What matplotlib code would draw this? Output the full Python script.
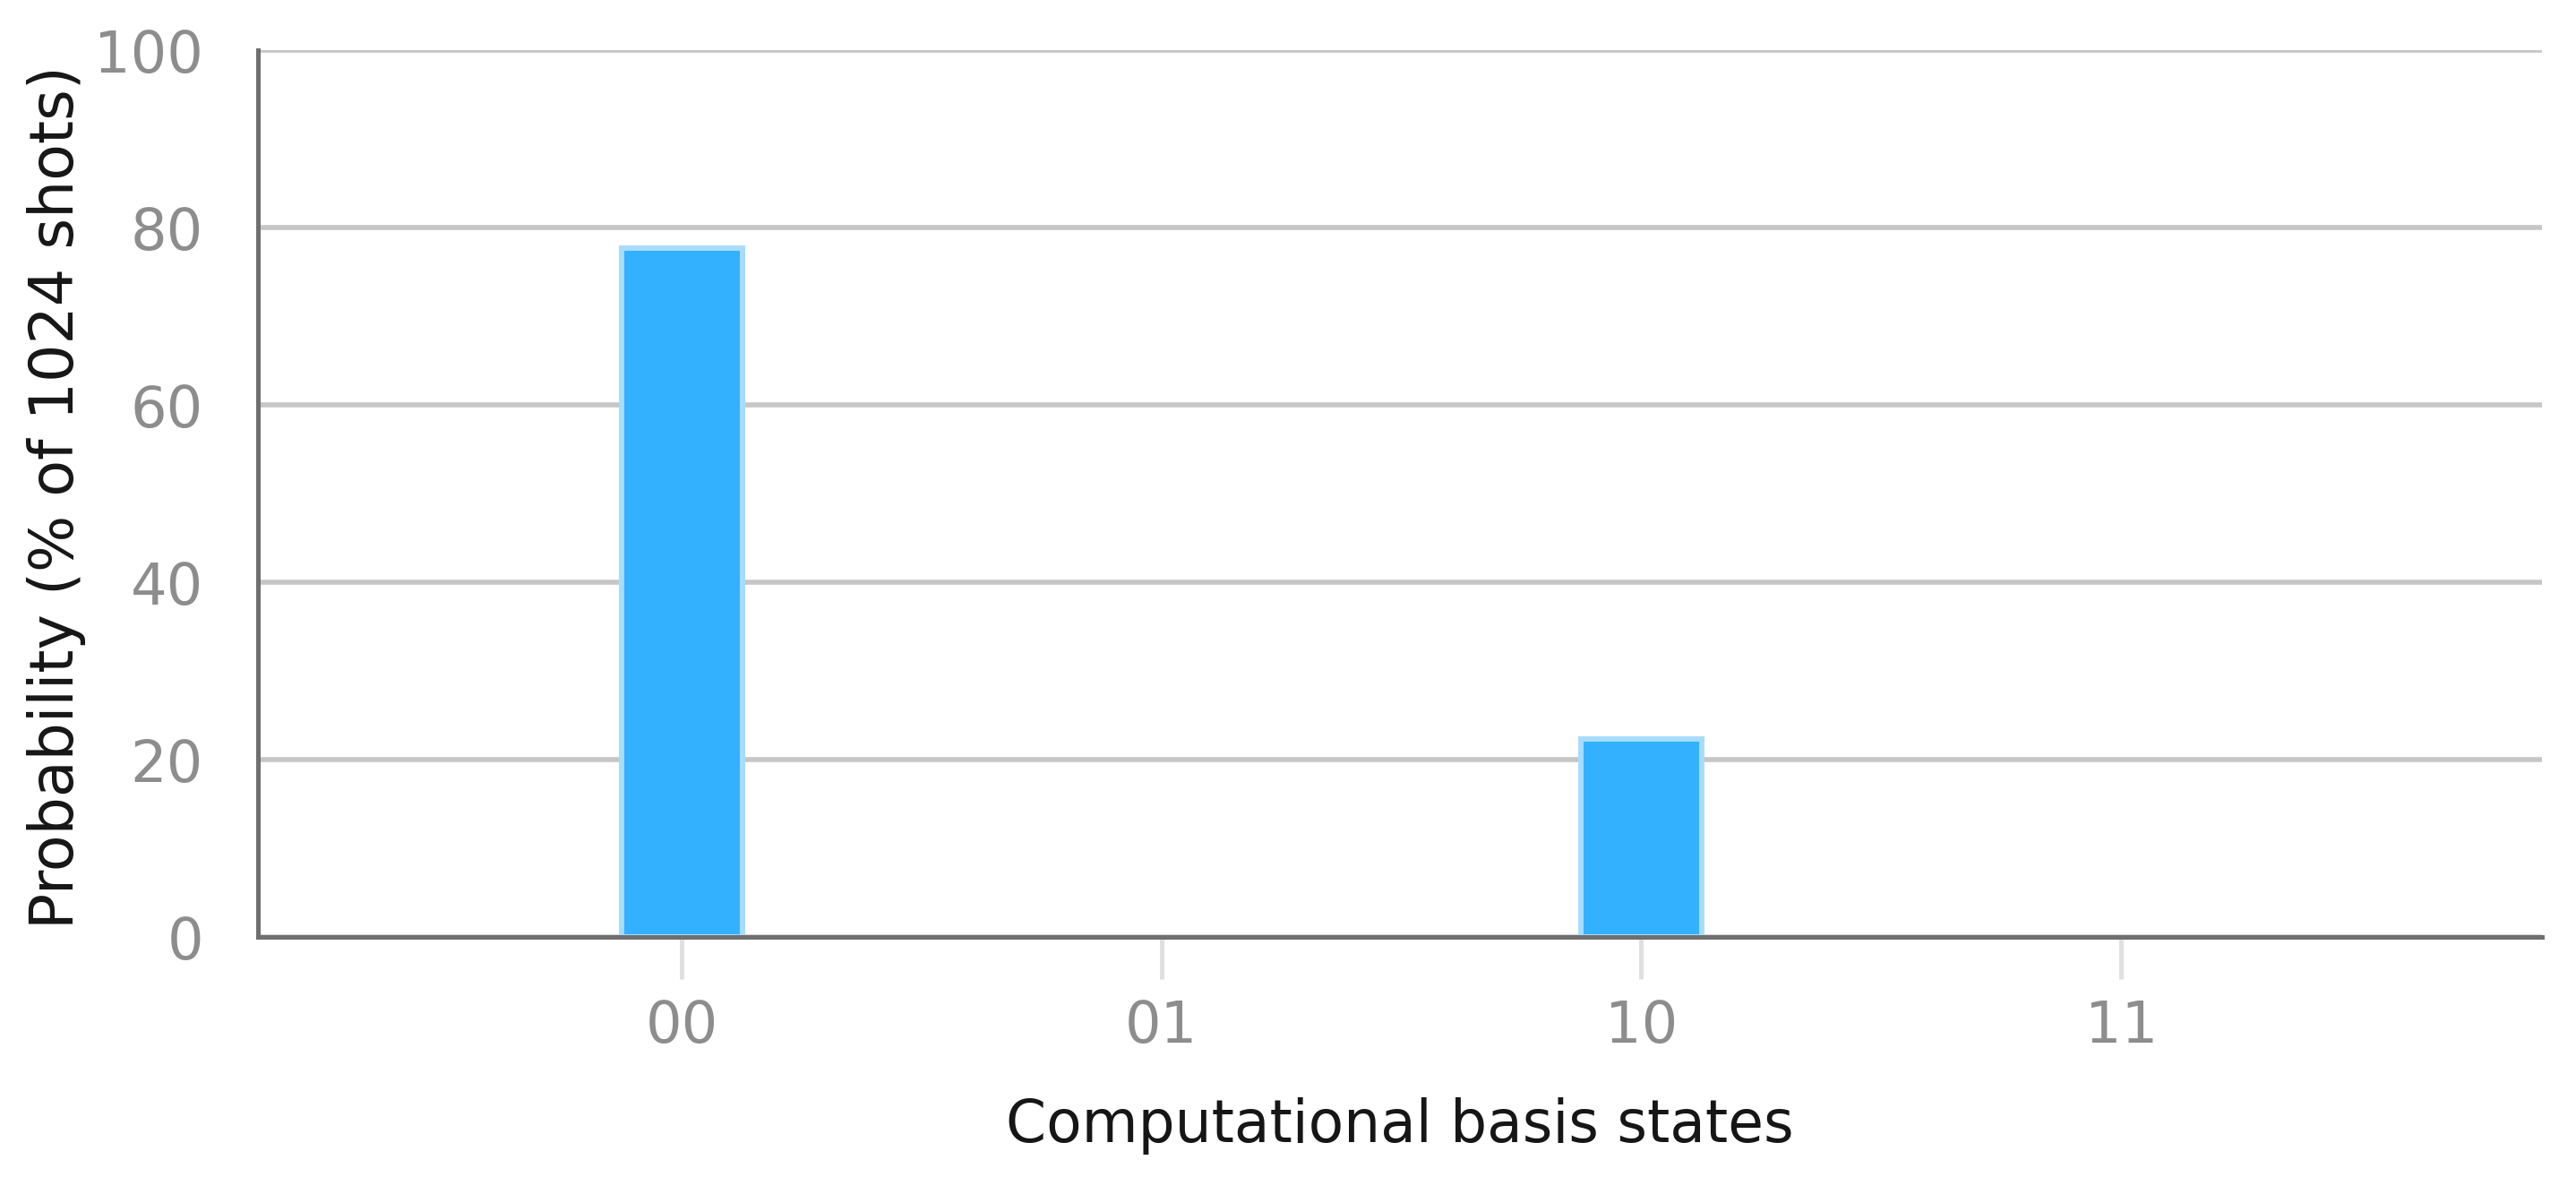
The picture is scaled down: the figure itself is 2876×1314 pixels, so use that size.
import matplotlib
matplotlib.use("Agg")
import matplotlib.pyplot as plt

# Data
states = ["00", "01", "10", "11"]
probabilities = [77.7, 0.0, 22.3, 0.0]
y_ticks = [0, 20, 40, 60, 80, 100]

DPI = 100
fig = plt.figure(figsize=(28.76, 13.14), dpi=DPI)
W, H = 2876, 1314
left, right, top, bottom = 288, 2838, 56, 1046
ax = fig.add_axes([left / W, (H - bottom) / H, (right - left) / W, (bottom - top) / H])

x = list(range(len(states)))
edge_widths = [4.3 if v > 0 else 0 for v in probabilities]
ax.bar(x, probabilities, width=0.252, color="#33b1ff", edgecolor="#a8dcff",
       linewidth=edge_widths, zorder=2)

ax.set_xlim(-0.883, 3.877)
ax.set_ylim(0, 100)
ax.set_yticks(y_ticks)
ax.set_xticks(x)
ax.set_xticklabels(states)

ax.yaxis.grid(True, color="#c6c6c6", linewidth=4.0, zorder=0)
ax.set_axisbelow(True)

for s in ["top", "right"]:
    ax.spines[s].set_visible(False)
for s in ["left", "bottom"]:
    ax.spines[s].set_color("#6f6f6f")
    ax.spines[s].set_linewidth(3.6)
    ax.spines[s].set_zorder(3)

ax.tick_params(axis="y", length=0, pad=44, labelsize=46, labelcolor="#8d8d8d")
ax.tick_params(axis="x", length=34, width=3.6, color="#e0e0e0", pad=16,
               labelsize=46, labelcolor="#8d8d8d")

ax.set_xlabel("Computational basis states", fontsize=46.5, color="#161616")
ax.set_ylabel("Probability (% of 1024 shots)", fontsize=48, color="#161616")
ax.xaxis.set_label_coords(0.5, -0.1808)
ax.yaxis.set_label_coords(-0.0753, 0.4955)

fig.savefig("out.png", dpi=DPI, facecolor="white")
